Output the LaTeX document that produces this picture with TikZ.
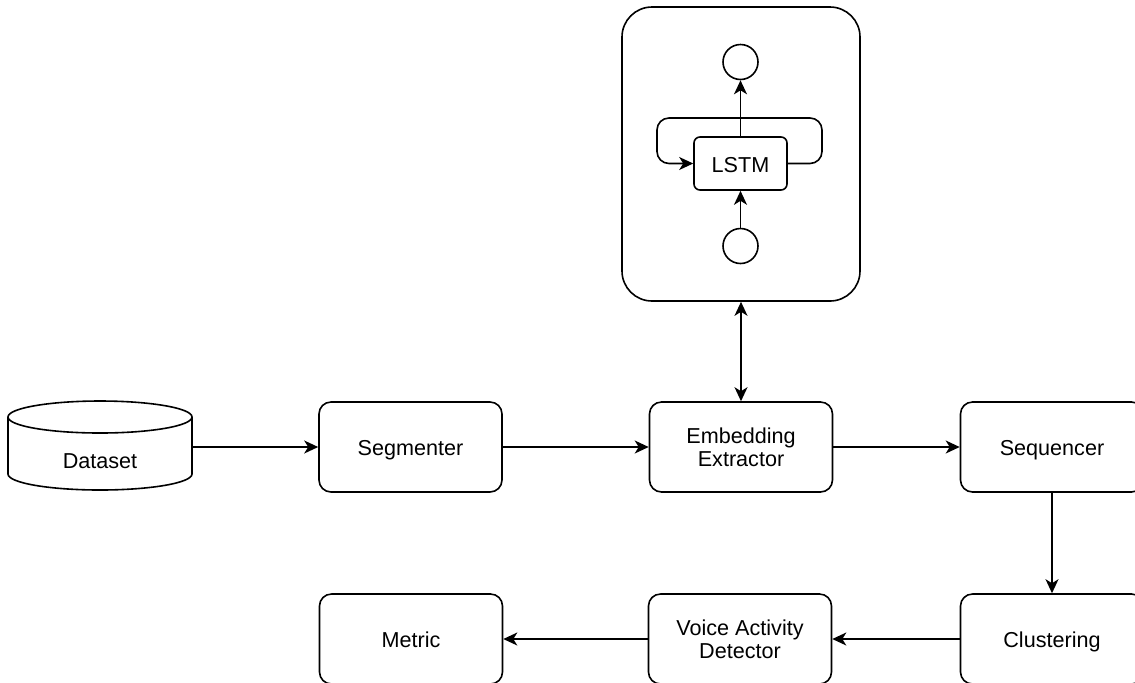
\documentclass[tikz,border=0pt]{standalone}
\usepackage{fontspec}
\setmainfont{Liberation Sans}
\usetikzlibrary{arrows.meta}
\newcommand{\tallstrut}{\rule{0pt}{11pt}}
\begin{document}
\begin{tikzpicture}[x=0.5pt,y=-0.5pt,
  every node/.style={font=\fontsize{10.8}{11.5}\selectfont, inner sep=0pt},
  stage/.style={draw, line width=0.8pt, rounded corners=6pt, minimum width=91.5pt, minimum height=45pt, align=center},
  tip/.tip={Stealth[length=7pt,width=6.5pt,inset=2pt]},
  arr/.style={line width=0.8pt, -tip},
  darr/.style={line width=0.8pt, tip-tip},
  unit/.style={draw, line width=0.8pt, circle, minimum size=17.5pt}]
\useasboundingbox (0,0) rectangle (1135,682);
% dataset cylinder
\node[minimum width=92pt, minimum height=44pt] (ds) at (100,447) {};
\draw[line width=0.8pt] (8,417) arc[start angle=180, end angle=-180, x radius=46pt, y radius=8pt];
\draw[line width=0.8pt] (8,417) -- (8,474) arc[start angle=180, end angle=360, x radius=46pt, y radius=8pt] -- (192,417);
\node (dstext) at (100,461) {Dataset};
% stages
\node[stage] (seg) at (410.5,447) {\tallstrut Segmenter};
\node[stage] (emb) at (741,447) {Embedding\\Extractor};
\node[stage] (seq) at (1052,447) {\tallstrut Sequencer};
\node[stage] (clu) at (1052,639) {\tallstrut Clustering};
\node[stage] (vad) at (740,639) {Voice Activity\\Detector};
\node[stage] (met) at (411,639) {\tallstrut Metric\vphantom{g}};
% model box
\node[draw, line width=0.8pt, rounded corners=15pt, minimum width=119pt, minimum height=147pt] (big) at (741,154) {};
\node[draw, line width=0.8pt, rounded corners=3pt, minimum width=46.5pt, minimum height=26.5pt] (lstm) at (740.5,163.5) {\rule{0pt}{9pt}LSTM};
\node[unit] (out) at (740.5,62) {};
\node[unit] (in) at (740.5,246) {};
\draw[arr] (lstm) -- (out);
\draw[arr] (in) -- (lstm);
\draw[arr, rounded corners=6pt] (lstm.east) -- (822,163.5) -- (822,118) -- (657,118) -- (657,163.5) -- (lstm.west);
% connectors
\draw[arr] (ds.east) -- (seg.west);
\draw[arr] (seg) -- (emb);
\draw[arr] (emb) -- (seq);
\draw[darr] (big.south) -- (emb.north);
\draw[arr] (seq) -- (clu);
\draw[arr] (clu) -- (vad);
\draw[arr] (vad) -- (met);
\end{tikzpicture}
\end{document}
